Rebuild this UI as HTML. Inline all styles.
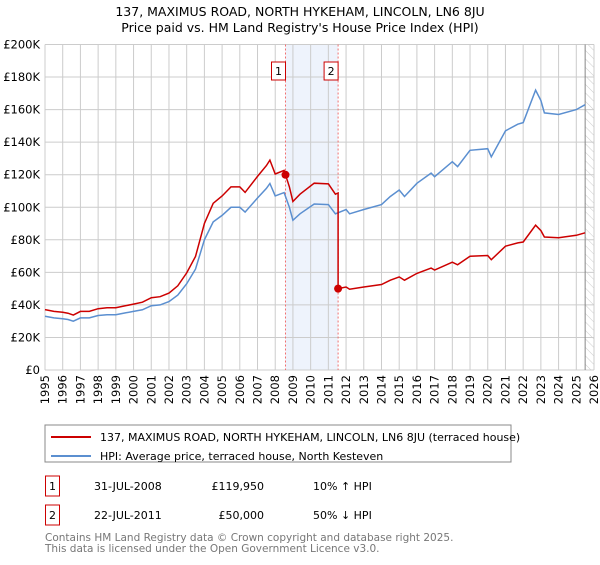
<!DOCTYPE html>
<html><head><meta charset="utf-8"><style>
body{margin:0;background:#fff;font-family:"Liberation Sans","DejaVu Sans",sans-serif;}
svg text{font-family:"DejaVu Sans","Liberation Sans",sans-serif;}
</style></head><body>
<svg id="c" width="600" height="560" xmlns="http://www.w3.org/2000/svg">
<defs><pattern id="hatch" width="6" height="6" patternUnits="userSpaceOnUse" patternTransform="rotate(-45)"><line x1="0" y1="0" x2="0" y2="6" stroke="#ccc" stroke-width="1"/></pattern></defs>
<text x="300" y="16" text-anchor="middle" font-size="12.5">137, MAXIMUS ROAD, NORTH HYKEHAM, LINCOLN, LN6 8JU</text>
<text x="300" y="32" text-anchor="middle" font-size="12.5">Price paid vs. HM Land Registry's House Price Index (HPI)</text>
<g id="plot"></g>
<rect x="45" y="425" width="466" height="37" fill="#fff" stroke="#888"/>
<line x1="51" y1="437" x2="91" y2="437" stroke="#cc0000" stroke-width="2"/>
<text x="100" y="441" font-size="11">137, MAXIMUS ROAD, NORTH HYKEHAM, LINCOLN, LN6 8JU (terraced house)</text>
<line x1="51" y1="456" x2="91" y2="456" stroke="#5b8fd0" stroke-width="2"/>
<text x="100" y="460" font-size="11">HPI: Average price, terraced house, North Kesteven</text>
<g font-size="11">
<rect x="45.5" y="476" width="14" height="20" fill="#fff" stroke="#cc0000"/>
<text x="52.5" y="490" text-anchor="middle">1</text>
<text x="94" y="490">31-JUL-2008</text><text x="264" y="490" text-anchor="end">£119,950</text><text x="313" y="490">10% ↑ HPI</text>
<rect x="45.5" y="505" width="14" height="20" fill="#fff" stroke="#cc0000"/>
<text x="52.5" y="519" text-anchor="middle">2</text>
<text x="94" y="519">22-JUL-2011</text><text x="264" y="519" text-anchor="end">£50,000</text><text x="313" y="519">50% ↓ HPI</text>
</g>
<text x="45" y="541" font-size="10.5" fill="#777">Contains HM Land Registry data © Crown copyright and database right 2025.</text>
<text x="45" y="552" font-size="10.5" fill="#777">This data is licensed under the Open Government Licence v3.0.</text>
</svg>
<script>
const hpiYears=[1995,1995.5,1996,1996.3,1996.6,1997,1997.5,1998,1998.5,1999,1999.5,2000,2000.5,2001,2001.5,2002,2002.5,2003,2003.5,2004,2004.5,2005,2005.5,2006,2006.3,2007,2007.5,2007.7,2008,2008.5,2008.8,2009,2009.4,2010.2,2011,2011.4,2012,2012.2,2013,2014,2014.5,2015,2015.3,2016,2016.8,2017,2018,2018.3,2019,2020,2020.2,2021,2021.7,2022,2022.7,2023,2023.2,2024,2025,2025.5];
const hpiValues=[33,32,31.5,31,30,32,32,33.5,34,34,35,36,37,39.5,40,42,46,53,62,80,91,95,100,100,97,105.7,111.6,114.6,107,109,100,92,96,102,101.6,96,98.6,96,98.6,101.6,106.6,110.6,106.6,114.7,121,118.8,128,125,135,136,131,147,151,152,172,165.6,158,157,160,163];
const saleYears=[2008.58,2011.55];
const salePrices=[119.95,50];
const yTicks=[0,20,40,60,80,100,120,140,160,180,200];
const xTicks=[1995,1996,1997,1998,1999,2000,2001,2002,2003,2004,2005,2006,2007,2008,2009,2010,2011,2012,2013,2014,2015,2016,2017,2018,2019,2020,2021,2022,2023,2024,2025,2026];
const X0=45,X1=594,Y0=370,Y1=44.5;
const xs=y=>X0+(y-1995)/(2026-1995)*(X1-X0);
const ys=v=>Y0-v/200*(Y0-Y1);
const NS='http://www.w3.org/2000/svg';
const g=document.getElementById('plot');
function mk(t,a){const e=document.createElementNS(NS,t);for(const k in a)e.setAttribute(k,a[k]);g.appendChild(e);return e;}
function hpiAt(t){for(let i=1;i<hpiYears.length;i++){if(t<=hpiYears[i]){const f=(t-hpiYears[i-1])/(hpiYears[i]-hpiYears[i-1]);return hpiValues[i-1]+f*(hpiValues[i]-hpiValues[i-1]);}}return hpiValues[hpiValues.length-1];}
let e=mk('rect',{x:xs(saleYears[0]),y:Y1,width:xs(saleYears[1])-xs(saleYears[0]),height:Y0-Y1,fill:'#eef3fc'});


e=mk('rect',{x:xs(2025.5),y:Y1,width:X1-xs(2025.5),height:Y0-Y1,fill:'url(#hatch)'});


yTicks.forEach(v=>{let l=mk('line',{x1:X0,x2:X1,y1:ys(v),y2:ys(v),stroke:'#ccc'});


let t=mk('text',{x:X0-5,y:ys(v)+4,'text-anchor':'end','font-size':'11.5'});t.textContent=v===0?'£0':'£'+v+'K';

});
xTicks.forEach(y=>{let l=mk('line',{x1:xs(y),x2:xs(y),y1:Y1,y2:Y0,stroke:'#ccc'});


let t=mk('text',{x:0,y:0,'text-anchor':'end','font-size':'11.5',transform:`translate(${xs(y)+4},${Y0+5}) rotate(-90)`});t.textContent=y;

});
e=mk('line',{x1:xs(2025.5),x2:xs(2025.5),y1:Y1,y2:Y0,stroke:'#888'});


saleYears.forEach((s,i)=>{let l=mk('line',{x1:xs(s),x2:xs(s),y1:Y1,y2:Y0,stroke:'#f07070','stroke-dasharray':'2,2'});


let r=mk('rect',{x:xs(s)-14,y:62,width:14,height:18,fill:'#fff',stroke:'#cc0000'});


let t=mk('text',{x:xs(s)-7,y:75,'text-anchor':'middle','font-size':'11'});t.textContent=i+1;

});
let pb=hpiYears.map((y,i)=>xs(y).toFixed(1)+','+ys(hpiValues[i]).toFixed(1)).join(' ');
e=mk('polyline',{points:pb,fill:'none',stroke:'#5b8fd0','stroke-width':1.5});


const r0=salePrices[0]/hpiAt(saleYears[0]),r1=salePrices[1]/hpiAt(saleYears[1]);
const pts=[];
hpiYears.forEach((y,i)=>{if(y<saleYears[0])pts.push([y,hpiValues[i]*r0]);});
pts.push([saleYears[0],salePrices[0]]);
hpiYears.forEach((y,i)=>{if(y>saleYears[0]&&y<saleYears[1])pts.push([y,hpiValues[i]*r0]);});
pts.push([saleYears[1],hpiAt(saleYears[1])*r0]);
pts.push([saleYears[1],salePrices[1]]);
hpiYears.forEach((y,i)=>{if(y>saleYears[1])pts.push([y,hpiValues[i]*r1]);});
e=mk('polyline',{points:pts.map(p=>xs(p[0]).toFixed(1)+','+ys(p[1]).toFixed(1)).join(' '),fill:'none',stroke:'#cc0000','stroke-width':1.5});


saleYears.forEach((s,i)=>{let c=mk('circle',{cx:xs(s),cy:ys(salePrices[i]),r:4,fill:'#cc0000'});

});
</script>
</body></html>
